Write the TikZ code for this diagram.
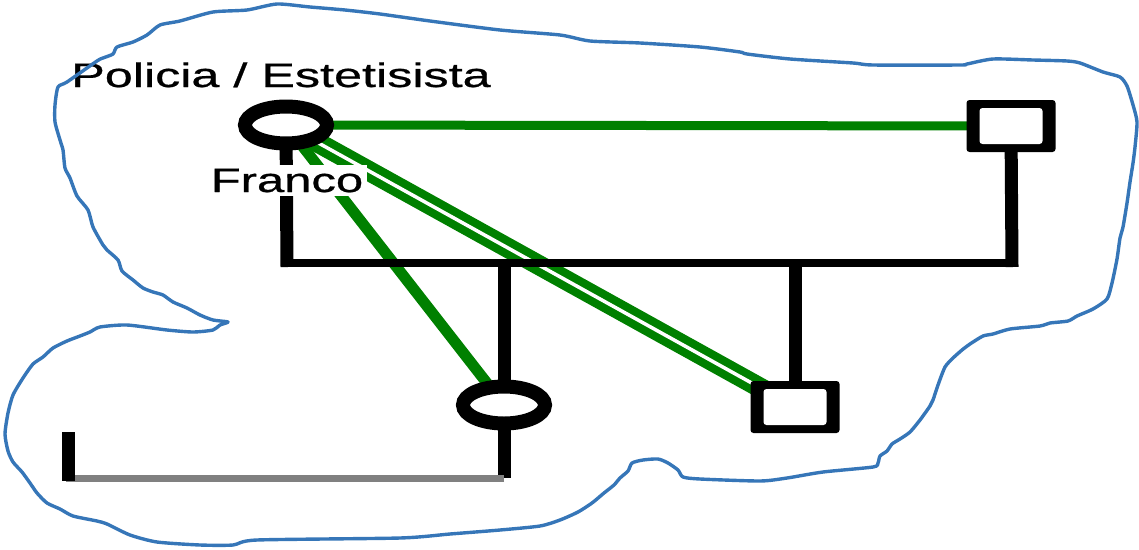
\documentclass[tikz,border=0pt]{standalone}
\usepackage{fontspec}
\setmainfont{Liberation Sans}[FakeBold=0.6]
\usetikzlibrary{shapes.geometric,calc}
\pgfdeclarelayer{bg}
\pgfsetlayers{bg,main}
\definecolor{outlineblue}{HTML}{3676B8}
\definecolor{relgreen}{HTML}{008000}
\begin{document}
\begin{tikzpicture}[x=1pt,y=-1pt,
  fem/.style={ellipse,draw=black,line width=14pt,fill=white,minimum width=82pt,minimum height=37pt,inner sep=0pt},
  male/.style={rectangle,fill=black,rounded corners=3pt,minimum width=89pt,minimum height=52pt,inner sep=0pt,
    path picture={\fill[white] ($(path picture bounding box.south west)+(13pt,8pt)$) rectangle ($(path picture bounding box.north east)+(-13pt,-8pt)$);}},
  kinv/.style={line width=13pt,black},
  kinh/.style={line width=8pt,black},
  greenrel/.style={line width=9pt,relgreen},
  greenthick/.style={line width=11pt,relgreen},
  lbl/.style={font=\fontsize{34}{40}\selectfont,inner sep=0pt},
  area/.style={draw=outlineblue,line width=3.4pt,line join=round}
]
\useasboundingbox (0,0) rectangle (1139,549);

% nodes
\node[fem] (f1) at (286,125) {};
\node[fem] (f2) at (504,405) {};
\node[male] (s1) at (1011,126) {};
\node[male] (s2) at (795,407) {};

\coordinate (j1) at (287,263);
\coordinate (j2) at (1012,263);
\coordinate (j3) at (504,263);
\coordinate (j4) at (795,263);
\coordinate (c1) at (504,478);
\coordinate (c2) at (66,478);
\coordinate (c3) at (68,432);

\begin{pgfonlayer}{bg}
% relationship lines
\draw[greenrel] (f1.center) -- (s1.center);
\draw[greenthick] (f1.center) -- (f2.center);
\draw[relgreen,line width=20pt] (f1.center) -- (s2.center);
\draw[white,line width=3.5pt] (f1.center) -- (s2.center);

% kinship lines
\draw[kinv] (f1.center) -- ($(j1)+(0,4)$);
\draw[kinv] (s1.center) -- ($(j2)+(0,4)$);
\draw[kinh] ($(j1)+(-6,0)$) -- ($(j2)+(6,0)$);
\draw[kinv] (j3) -- (f2.center);
\draw[kinv] (j4) -- (s2.center);
\draw[kinv] (f2.center) -- (c1);
\draw[gray,line width=7pt] (c1) -- (c2);
\draw[kinv] (c3) -- ($(c2)+(2,3)$);
\end{pgfonlayer}

% labels
\node[lbl,anchor=base] (lp) at (281,87) {\scalebox{1.48}[1]{Policia / Estetisista}};
\node[lbl,anchor=base,fill=white,inner xsep=4pt,inner ysep=4pt] (lf) at (287,192) {\scalebox{1.44}[1]{Franco}};

% enclosing outline
\draw[area] plot[smooth cycle,tension=0.4] coordinates {
(277,4) (310,7) (345,10) (380,14) (430,21) (500,30) (560,35) (590,41) (640,43) (700,47)
(740,52) (747,54) (790,59) (853,63) (873,65) (960,65) (967,64) (993,59) (1033,60) (1067,61)
(1080,63) (1103,72) (1120,77) (1127,86) (1133,105) (1137,122) (1135,147) (1133,163) (1130,182)
(1127,203) (1123,227) (1120,238) (1117,259) (1112,283) (1107,299) (1093,309) (1077,316)
(1068,321) (1050,323) (1040,326) (1010,329) (993,334) (983,336) (970,344) (962,350) (953,358)
(945,367) (938,385) (933,400) (930,406) (920,420) (910,432) (900,439) (892,444) (887,451)
(880,456) (878,463) (873,467) (823,472) (787,478) (760,481) (700,479) (683,477) (678,470)
(668,463) (658,459) (643,460) (632,463) (628,471) (620,478) (614,485) (604,493) (592,503)
(578,512) (560,520) (540,526) (500,530) (450,534) (400,538) (257,540) (233,545) (200,545)
(157,542) (130,535) (107,524) (97,521) (73,516) (60,509) (47,503) (37,493) (30,483) (22,472)
(13,462) (8,451) (5,434) (8,413) (13,395) (23,378) (33,364) (43,357) (53,348) (67,341) (80,336)
(90,332) (100,327) (127,325) (167,330) (193,332) (213,330) (220,325) (228,322) (213,320)
(200,315) (187,308) (173,302) (163,295) (153,292) (143,288) (133,280) (122,271) (118,260)
(107,250) (103,245) (93,227) (88,210) (77,196) (70,178) (65,168) (63,150) (60,140) (55,122)
(55,105) (58,87) (67,82) (97,61) (103,58) (113,54) (117,47) (133,42) (147,35) (160,25)
(180,21) (213,12) (247,10)};
\end{tikzpicture}
\end{document}
